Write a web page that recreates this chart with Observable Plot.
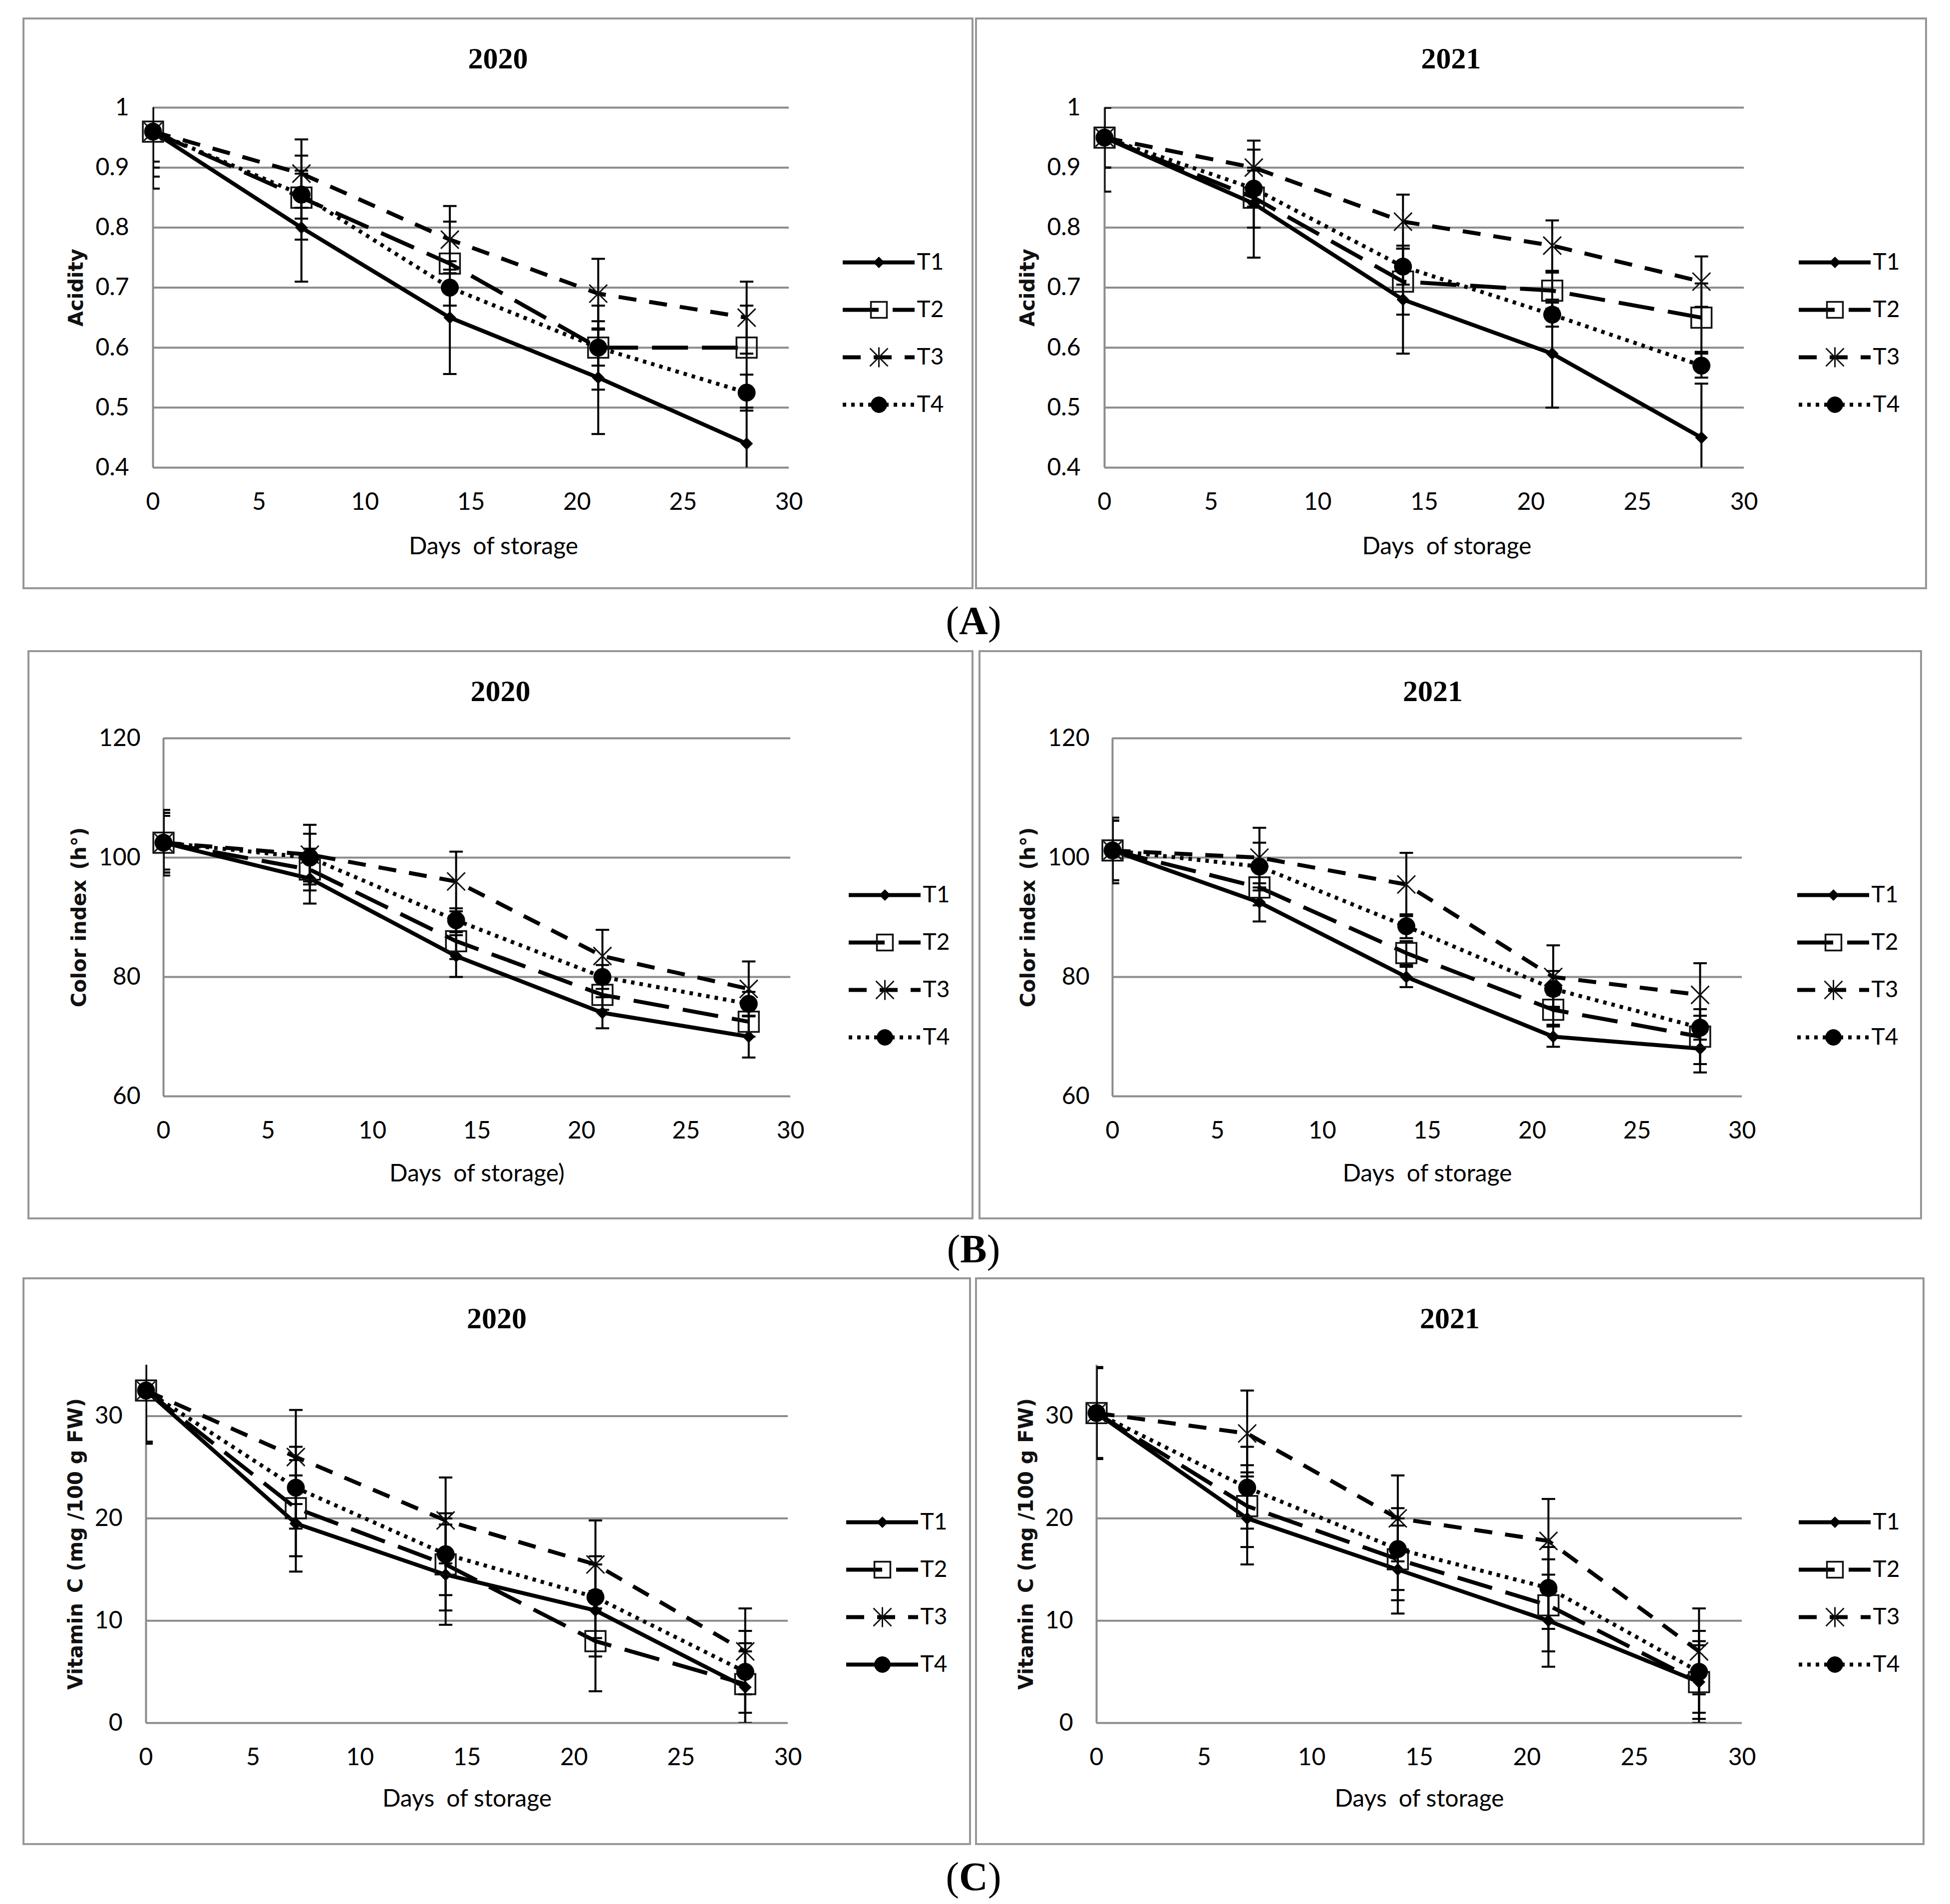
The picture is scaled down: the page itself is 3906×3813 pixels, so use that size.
<!DOCTYPE html>
<html>
<head>
<meta charset="utf-8">
<script src="https://cdn.jsdelivr.net/npm/d3@7"></script>
<script src="https://cdn.jsdelivr.net/npm/@observablehq/plot@0.6"></script>
<style>
  html, body { margin: 0; padding: 0; background: #fff; }
  body { width: 3906px; height: 3813px; position: relative; overflow: hidden; }
  .panel { position: absolute; background: #fff; }
  .frame { position: absolute; left: 0; top: 0; right: 0; bottom: 0; border: 4px solid #979797; pointer-events: none; }
  .title { position: absolute; left: 0; right: 0; text-align: center; font: bold 60px "Liberation Serif", serif; line-height: 1; color: #000; }
  .chart { position: absolute; left: 0; }
  .legend { position: absolute; }
  .lab { position: absolute; font: 80px "Liberation Serif", serif; line-height: 1; color: #000; transform: translateX(-50%); white-space: nowrap; }
  .lab b { font-weight: bold; }
</style>
</head>
<body>
<script>
// ---------- data ----------
const days = [0, 7, 14, 21, 28];
const seriesNames = ["T1", "T2", "T3", "T4"];
const xTicks = [0, 5, 10, 15, 20, 25, 30];

const acidityTicks = [0.4, 0.5, 0.6, 0.7, 0.8, 0.9, 1];
const colorTicks = [60, 80, 100, 120];
const vitcTicks = [0, 10, 20, 30];

// Acidity 2020 (rows: T1..T4, columns: days)
const acidity2020 = [
  [0.96, 0.80, 0.65, 0.55, 0.44],
  [0.96, 0.85, 0.74, 0.60, 0.60],
  [0.96, 0.89, 0.78, 0.69, 0.65],
  [0.96, 0.855, 0.70, 0.60, 0.525]
];
const acidity2020Err = [
  [0.095, 0.09, 0.094, 0.094, 0.06],
  [0.06, 0.07, 0.07, 0.07, 0.07],
  [0.075, 0.057, 0.056, 0.058, 0.06],
  [0.05, 0.04, 0.03, 0.03, 0.03]
];
// Acidity 2021
const acidity2021 = [
  [0.95, 0.84, 0.68, 0.59, 0.45],
  [0.95, 0.85, 0.71, 0.695, 0.65],
  [0.95, 0.90, 0.81, 0.77, 0.71],
  [0.95, 0.865, 0.735, 0.655, 0.57]
];
const acidity2021Err = [
  [0.09, 0.09, 0.09, 0.09, 0.09],
  [0.05, 0.05, 0.055, 0.03, 0.057],
  [0.05, 0.045, 0.045, 0.042, 0.042],
  [0.05, 0.03, 0.03, 0.02, 0.02]
];
// Color index 2020
const color2020 = [
  [102.5, 96.5, 83.5, 74, 70],
  [102.5, 98, 86, 77, 72.5],
  [102.5, 100.5, 96, 83.5, 78],
  [102.5, 100, 89.5, 80, 75.5]
];
const color2020Err = [
  [5.5, 4.2, 3.5, 2.6, 3.5],
  [5, 3.5, 3, 2.5, 2.5],
  [5, 5, 5, 4.4, 4.6],
  [4.5, 4, 2, 2, 2]
];
// Color index 2021
const color2021 = [
  [101.2, 92.5, 80, 70, 68],
  [101.2, 95, 84, 74.5, 70],
  [101.2, 100, 95.5, 80, 77],
  [101.2, 98.5, 88.5, 78, 71.5]
];
const color2021Err = [
  [5.5, 3.2, 1.7, 1.7, 4],
  [5, 3, 2, 2.5, 4.6],
  [5, 5, 5.3, 5.3, 5.3],
  [5, 4, 2, 3, 2]
];
// Vitamin C 2020
const vitc2020 = [
  [32.5, 19.5, 14.5, 11, 3.5],
  [32.5, 21, 15.5, 8, 3.8],
  [32.5, 26, 19.8, 15.5, 7],
  [32.5, 23, 16.5, 12.3, 5]
];
const vitc2020Err = [
  [5, 4.7, 4.9, 4.5, 3.5],
  [5, 4.7, 4.5, 4.9, 4],
  [5, 4.6, 4.2, 4.3, 4.2],
  [5.2, 4, 4, 4, 4]
];
// Vitamin C 2021
const vitc2021 = [
  [30.3, 20, 15, 10, 4],
  [30.3, 21.2, 16, 11.5, 4],
  [30.3, 28.3, 20, 17.8, 7],
  [30.3, 23, 17, 13.2, 5]
];
const vitc2021Err = [
  [4.4, 4.5, 4.3, 4.5, 3.6],
  [4.4, 4, 4, 4.5, 4],
  [4.4, 4.2, 4.2, 4.1, 4.2],
  [4.5, 4, 4, 4, 4]
];

// ---------- styles ----------
const dashes = [null, "72,28", "36,26", "7,10"];
const starSymbol = {
  draw(ctx, size) {
    const r = Math.sqrt(size / Math.PI);
    const d = r * 0.9;
    ctx.moveTo(0, -r); ctx.lineTo(0, r);
    ctx.moveTo(-d, -d); ctx.lineTo(d, d);
    ctx.moveTo(-d, d); ctx.lineTo(d, -d);
  }
};
const capSymbol = {
  draw(ctx, size) {
    const w = Math.sqrt(size / Math.PI);
    ctx.moveTo(-w, 0); ctx.lineTo(w, 0);
  }
};
function markerOpts(i, legend) {
  if (i === 0) return {symbol: "diamond2", r: legend ? 10 : 11, fill: "#000", stroke: "#000", strokeWidth: 1};
  if (i === 1) return {symbol: "square", r: legend ? 18 : 23, fill: "none", stroke: "#111", strokeWidth: 3.5};
  if (i === 2) return {symbol: starSymbol, r: 20, fill: "none", stroke: "#111", strokeWidth: 3};
  return {symbol: "circle", r: legend ? 16 : 17.5, fill: "#000", stroke: "#000", strokeWidth: 1};
}

// ---------- panels ----------
const rows = {
  A: {top: 35, h: 1145, pt: 180, pb: 901, yLabelOff: 153, xLabelDy: 158, xLabelDx: 45, tickPadY: 48},
  B: {top: 1302, h: 1140, pt: 176, pb: 893, yLabelOff: 168, xLabelDy: 155, xLabelDx: 0, tickPadY: 46},
  C: {top: 2558, h: 1137, pt: 175, pb: 892, yLabelOff: 140, xLabelDy: 152, xLabelDx: 0, tickPadY: 47}
};

const panels = [
  {row: "A", left: 45, w: 1905, ml: 261, pw: 1274, title: "2020", titleDx: 0, means: acidity2020, errs: acidity2020Err,
   yDomain: [0.4, 1], yTicks: acidityTicks, yLabel: "Acidity", xLabel: "Days\u2002of storage", legendX: 1643, legendSolidT4: false},
  {row: "A", left: 1953, w: 1907, ml: 259, pw: 1281, title: "2021", titleDx: 0, means: acidity2021, errs: acidity2021Err,
   yDomain: [0.4, 1], yTicks: acidityTicks, yLabel: "Acidity", xLabel: "Days\u2002of storage", legendX: 1650, legendSolidT4: false},
  {row: "B", left: 55, w: 1895, ml: 272, pw: 1256, title: "2020", titleDx: 0, means: color2020, errs: color2020Err,
   yDomain: [60, 120], yTicks: colorTicks, yLabel: "Color index\u2002(h\u00b0)", xLabel: "Days\u2002of storage)", legendX: 1645, legendSolidT4: false},
  {row: "B", left: 1960, w: 1890, ml: 268, pw: 1261, title: "2021", titleDx: -35, means: color2021, errs: color2021Err,
   yDomain: [60, 120], yTicks: colorTicks, yLabel: "Color index\u2002(h\u00b0)", xLabel: "Days\u2002of storage", legendX: 1640, legendSolidT4: false},
  {row: "C", left: 45, w: 1900, ml: 247, pw: 1286, title: "2020", titleDx: 0, means: vitc2020, errs: vitc2020Err,
   yDomain: [0, 35], yTicks: vitcTicks, yLabel: "Vitamin\u2002C (mg /100 g FW)", xLabel: "Days\u2002of storage", legendX: 1650, legendSolidT4: true},
  {row: "C", left: 1953, w: 1902, ml: 243, pw: 1293, title: "2021", titleDx: 0, means: vitc2021, errs: vitc2021Err,
   yDomain: [0, 35], yTicks: vitcTicks, yLabel: "Vitamin\u2002C (mg /100 g FW)", xLabel: "Days\u2002of storage", legendX: 1650, legendSolidT4: false}
];

const SVG_TOP = 140;
const fmt = d3.format("~g");

for (const p of panels) {
  const r = rows[p.row];
  const div = document.createElement("div");
  div.className = "panel";
  div.style.left = p.left + "px";
  div.style.top = r.top + "px";
  div.style.width = p.w + "px";
  div.style.height = r.h + "px";
  document.body.appendChild(div);

  const t = document.createElement("div");
  t.className = "title";
  t.textContent = p.title;
  t.style.top = (82 - 30) + "px";
  t.style.transform = `translateX(${p.titleDx}px)`;
  div.appendChild(t);

  const data = [];
  seriesNames.forEach((s, i) => {
    days.forEach((d, j) => {
      const v = p.means[i][j], e = p.errs[i][j];
      data.push({series: s, day: d, v, lo: v - e, hi: v + e});
    });
  });

  const marks = [
    Plot.ruleY(p.yTicks, {stroke: "#8c8c8c", strokeWidth: 4}),
    Plot.ruleX([0], {y1: p.yDomain[0], y2: p.yDomain[1], stroke: "#8c8c8c", strokeWidth: 4})
  ];
  seriesNames.forEach((s, i) => {
    const sd = data.filter(d => d.series === s);
    marks.push(Plot.line(sd, {x: "day", y: "v", stroke: "#000", strokeWidth: 8,
      strokeDasharray: dashes[i] || undefined, strokeLinecap: "butt", strokeLinejoin: "round", clip: true}));
    marks.push(Plot.ruleX(sd, {x: "day", y1: "lo", y2: "hi", stroke: "#000", strokeWidth: 4, clip: true}));
    marks.push(Plot.dot(sd, {x: "day", y: "lo", symbol: capSymbol, r: 13.5, fill: "none", stroke: "#000", strokeWidth: 4, clip: true}));
    marks.push(Plot.dot(sd, {x: "day", y: "hi", symbol: capSymbol, r: 13.5, fill: "none", stroke: "#000", strokeWidth: 4, clip: true}));
    marks.push(Plot.dot(sd, {x: "day", y: "v", ...markerOpts(i, false)}));
  });
  marks.push(Plot.text([p.xLabel], {text: d => d, frameAnchor: "bottom", dy: r.xLabelDy, dx: r.xLabelDx,
    fontFamily: "Lato", fontSize: 48, fill: "#000", textAnchor: "middle", lineAnchor: "middle"}));
  marks.push(Plot.text([p.yLabel], {text: d => d, frameAnchor: "left", rotate: -90, dx: -r.yLabelOff,
    fontFamily: "DejaVu Sans", fontWeight: "bold", fontSize: 40, fill: "#111", textAnchor: "middle", lineAnchor: "middle"}));

  const svgH = r.h - SVG_TOP;
  const chart = Plot.plot({
    width: p.w,
    height: svgH,
    marginLeft: p.ml,
    marginRight: p.w - p.ml - p.pw,
    marginTop: r.pt - SVG_TOP,
    marginBottom: r.h - r.pb,
    x: {domain: [0, 30], ticks: xTicks, tickSize: 0, tickPadding: 50, label: null},
    y: {domain: p.yDomain, ticks: p.yTicks, tickSize: 0, tickPadding: r.tickPadY, label: null, tickFormat: fmt},
    style: {fontFamily: "Lato", fontSize: "48px", color: "#000", background: "none", overflow: "visible"},
    marks
  });
  const cw = document.createElement("div");
  cw.className = "chart";
  cw.style.top = SVG_TOP + "px";
  cw.style.width = p.w + "px";
  cw.appendChild(chart);
  div.appendChild(cw);

  // legend
  const legMarks = [];
  seriesNames.forEach((s, i) => {
    const dash = (i === 3 && p.legendSolidT4) ? undefined : (dashes[i] || undefined);
    legMarks.push(Plot.ruleY([s], {y: d => d, x1: () => 0, x2: () => 1, stroke: "#000", strokeWidth: 8, strokeDasharray: dash}));
    legMarks.push(Plot.dot([s], {x: () => 0.5, y: d => d, ...markerOpts(i, true)}));
    legMarks.push(Plot.text([s], {x: () => 1, y: d => d, text: d => d, dx: 4, textAnchor: "start",
      fontFamily: "Lato", fontSize: 46, fill: "#000"}));
  });
  const legend = Plot.plot({
    width: 260, height: 400,
    marginLeft: 10, marginRight: 106, marginTop: 50, marginBottom: 64,
    x: {domain: [0, 1], axis: null},
    y: {type: "point", domain: seriesNames, axis: null, padding: 0},
    style: {background: "none", overflow: "visible"},
    marks: legMarks
  });
  const lw = document.createElement("div");
  lw.className = "legend";
  lw.style.left = (p.legendX - 10) + "px";
  lw.style.top = (489 - 50) + "px";
  lw.style.width = "260px";
  lw.appendChild(legend);
  div.appendChild(lw);

  const fr = document.createElement("div");
  fr.className = "frame";
  div.appendChild(fr);
}

// row labels
const rowLabels = ["A", "B", "C"];
const rowLabelTops = [1203, 2461, 3718];
rowLabels.forEach((L, i) => {
  const el = document.createElement("div");
  el.className = "lab";
  el.style.left = "1950px";
  el.style.top = rowLabelTops[i] + "px";
  el.innerHTML = "(<b>" + L + "</b>)";
  document.body.appendChild(el);
});
</script>
</body>
</html>
